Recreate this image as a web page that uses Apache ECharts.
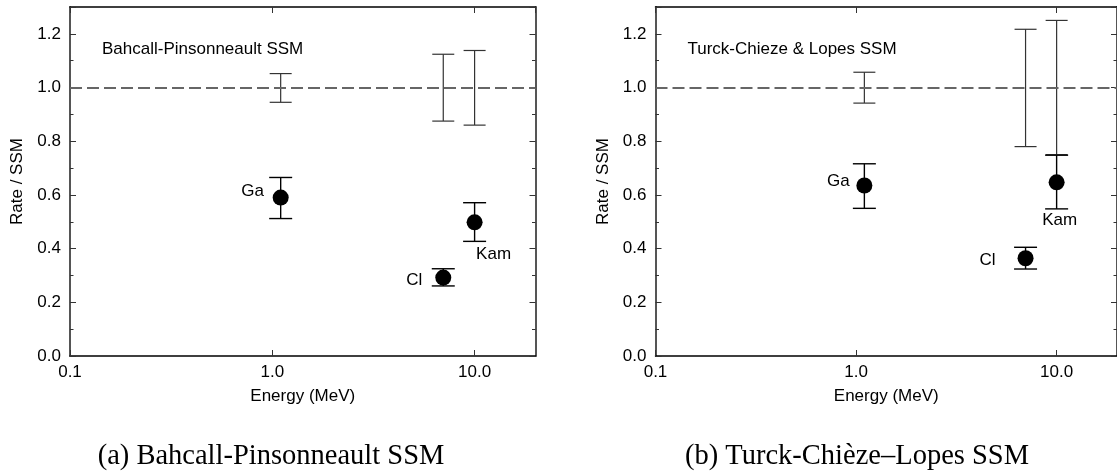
<!DOCTYPE html>
<html>
<head>
<meta charset="utf-8">
<script src="https://cdn.jsdelivr.net/npm/echarts@6/dist/echarts.min.js"></script>
<style>
html,body{margin:0;padding:0;background:#fff;}
#c{width:1117px;height:476px;}
</style>
</head>
<body>
<div id="c"></div>
<script>
// ---------- data ----------
const xTickValues = [0.1, 1, 10];
const xTickLabels = ['0.1', '1.0', '10.0'];
const detectors = ['Ga', 'Cl', 'Kam'];
const energies = [1.1, 7.0, 10.0];

// Panel (a) Bahcall-Pinsonneault
const bpRate = [0.590, 0.292, 0.498];
const bpRateLow = [0.512, 0.261, 0.427];
const bpRateHigh = [0.665, 0.325, 0.571];
const bpSsmLow = [0.945, 0.875, 0.860];
const bpSsmHigh = [1.052, 1.124, 1.138];

// Panel (b) Turck-Chieze & Lopes
const tclRate = [0.635, 0.364, 0.647];
const tclRateLow = [0.550, 0.324, 0.548];
const tclRateHigh = [0.716, 0.405, 0.748];
const tclSsmLow = [0.942, 0.780, 0.750];
const tclSsmHigh = [1.057, 1.217, 1.250];

const panelTitles = ['Bahcall-Pinsonneault SSM', 'Turck-Chieze & Lopes SSM'];
const captions = ['(a) Bahcall-Pinsonneault SSM', '(b) Turck-Chi\u00e8ze\u2013Lopes SSM'];
const xName = 'Energy (MeV)';
const yName = 'Rate / SSM';
const ssmLevel = 1.0;

// ---------- styling / layout ----------
const labelOffsets = [
  [[-28, -6], [-29, 3], [19, 32]],
  [[-26, -4], [-38, 2], [3, 38]]
];
const grids = [
  {left: 70, top: 7, width: 465.5, height: 349},
  {left: 655.5, top: 7, width: 466, height: 349}
];
const FONT = 'Liberation Sans';

function fmtX(v) {
  const k = Math.round(Math.log10(v));
  const i = xTickValues.findIndex(t => Math.round(Math.log10(t)) === k);
  return i >= 0 ? xTickLabels[i] : '';
}

function errRender(capHalf, color, width) {
  return function (params, api) {
    const x = api.value(0), lo = api.value(1), hi = api.value(2);
    const a = api.coord([x, lo]);
    const b = api.coord([x, hi]);
    const st = {stroke: color, lineWidth: width};
    return {
      type: 'group',
      children: [
        {type: 'line', shape: {x1: a[0], y1: a[1], x2: b[0], y2: b[1]}, style: st},
        {type: 'line', shape: {x1: a[0] - capHalf, y1: a[1], x2: a[0] + capHalf, y2: a[1]}, style: st},
        {type: 'line', shape: {x1: b[0] - capHalf, y1: b[1], x2: b[0] + capHalf, y2: b[1]}, style: st}
      ]
    };
  };
}

const xAxes = [], yAxes = [], series = [], titles = [];
const panels = [
  {rate: bpRate, lo: bpRateLow, hi: bpRateHigh, sLo: bpSsmLow, sHi: bpSsmHigh},
  {rate: tclRate, lo: tclRateLow, hi: tclRateHigh, sLo: tclSsmLow, sHi: tclSsmHigh}
];

panels.forEach((p, g) => {
  xAxes.push({
    type: 'log', logBase: 10, min: 0.1, max: 20, gridIndex: g, position: 'bottom',
    name: xName, nameLocation: 'middle', nameGap: 32,
    nameTextStyle: {fontFamily: FONT, fontSize: 17, color: '#000'},
    axisLine: {show: true, onZero: false, lineStyle: {color: '#000', width: 1.5}},
    axisTick: {show: true, inside: true, length: 6, lineStyle: {color: '#333', width: 1}},
    minorTick: {show: false},
    axisLabel: {show: true, margin: 8, fontFamily: FONT, fontSize: 17, color: '#000',
      formatter: fmtX, showMaxLabel: false, showMinLabel: true},
    splitLine: {show: false}
  });
  xAxes.push({
    type: 'log', logBase: 10, min: 0.1, max: 20, gridIndex: g, position: 'top',
    axisLine: {show: true, onZero: false, lineStyle: {color: '#000', width: 1.5}},
    axisTick: {show: true, inside: true, length: 6, lineStyle: {color: '#333', width: 1}},
    axisLabel: {show: false}, splitLine: {show: false}
  });
  yAxes.push({
    type: 'value', min: 0, max: 1.3, interval: 0.2, gridIndex: g, position: 'left',
    name: yName, nameLocation: 'middle', nameGap: 44, nameRotate: 90,
    nameTextStyle: {fontFamily: FONT, fontSize: 17, color: '#000'},
    axisLine: {show: true, onZero: false, lineStyle: {color: '#555', width: 2}},
    axisTick: {show: true, inside: true, length: 6, lineStyle: {color: '#333', width: 1}},
    minorTick: {show: true, splitNumber: 2, length: 3.5, lineStyle: {color: '#333', width: 1}},
    axisLabel: {margin: 9, fontFamily: FONT, fontSize: 17, color: '#000',
      formatter: v => v.toFixed(1), showMaxLabel: false},
    splitLine: {show: false}
  });
  yAxes.push({
    type: 'value', min: 0, max: 1.3, interval: 0.2, gridIndex: g, position: 'right',
    axisLine: {show: true, onZero: false, lineStyle: {color: '#555', width: 2}},
    axisTick: {show: true, inside: true, length: 6, lineStyle: {color: '#333', width: 1}},
    minorTick: {show: true, splitNumber: 2, length: 3.5, lineStyle: {color: '#333', width: 1}},
    axisLabel: {show: false}, splitLine: {show: false}
  });

  const xi = g * 2, yi = g * 2;
  series.push({
    type: 'custom', xAxisIndex: xi, yAxisIndex: yi,
    renderItem: errRender(11, '#333', 1.2),
    encode: {x: 0, y: [1, 2]},
    data: energies.map((e, i) => [e, p.sLo[i], p.sHi[i]]),
    z: 2,
    markLine: {
      silent: true, symbol: 'none', label: {show: false},
      lineStyle: {color: '#666', width: 2, type: [12, 5], opacity: 1},
      data: [{yAxis: ssmLevel}]
    }
  });
  series.push({
    type: 'custom', xAxisIndex: xi, yAxisIndex: yi,
    renderItem: errRender(11.5, '#000', 1.4),
    encode: {x: 0, y: [1, 2]},
    data: energies.map((e, i) => [e, p.lo[i], p.hi[i]]),
    z: 3
  });
  series.push({
    type: 'scatter', xAxisIndex: xi, yAxisIndex: yi,
    symbol: 'circle', symbolSize: 16,
    itemStyle: {color: '#000', opacity: 1},
    data: energies.map((e, i) => ({
      value: [e, p.rate[i]],
      label: {
        show: true, formatter: detectors[i], position: 'inside',
        offset: labelOffsets[g][i], align: 'center', verticalAlign: 'middle',
        fontFamily: FONT, fontSize: 17, color: '#000', opacity: 1
      }
    })),
    z: 4
  });

  titles.push({
    text: panelTitles[g], left: grids[g].left + 27, top: 36,
    textStyle: {fontFamily: FONT, fontSize: 17, fontWeight: 'normal', color: '#000'}
  });
});

const chart = echarts.init(document.getElementById('c'), null, {renderer: 'canvas'});
chart.setOption({
  animation: false,
  backgroundColor: '#fff',
  title: titles,
  grid: grids,
  xAxis: xAxes,
  yAxis: yAxes,
  series: series,
  graphic: captions.map((t, i) => ({
    type: 'text', x: [271, 857][i], y: 457,
    style: {text: t, fontFamily: 'Liberation Serif', fontSize: 28.5, fill: '#000',
      textAlign: 'center', textVerticalAlign: 'middle'}
  }))
});
</script>
</body>
</html>
